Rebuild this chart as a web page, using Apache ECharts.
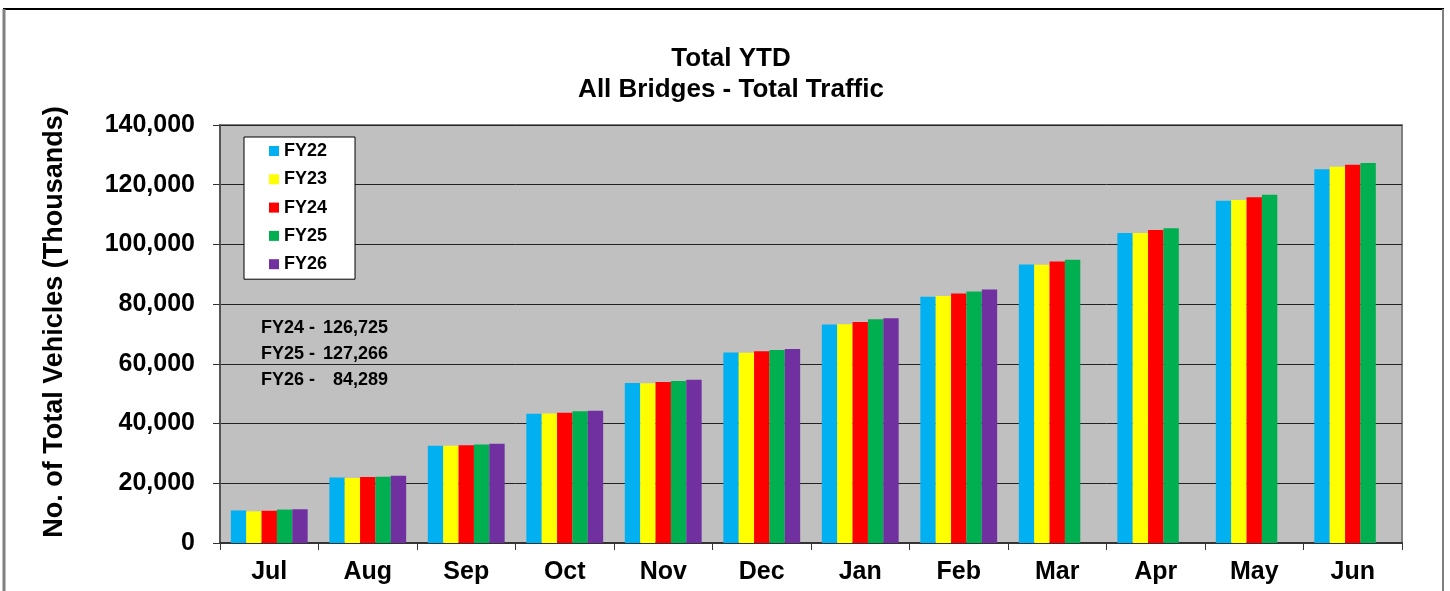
<!DOCTYPE html>
<html>
<head>
<meta charset="utf-8">
<script src="https://cdn.jsdelivr.net/npm/echarts@6/dist/echarts.min.js"></script>
<style>
  html, body { margin: 0; padding: 0; background: #fff; }
  #chart { width: 1450px; height: 591px; }
</style>
</head>
<body>
<div id="chart"></div>
<script>
// ---- Data ----
const categories = ['Jul','Aug','Sep','Oct','Nov','Dec','Jan','Feb','Mar','Apr','May','Jun'];
const seriesNames = ['FY22','FY23','FY24','FY25','FY26'];
const fy22 = [10900, 21900, 32600, 43300, 53600, 63800, 73200, 82500, 93300, 103800, 114600, 125200];
const fy23 = [10600, 21800, 32600, 43400, 53500, 63700, 73300, 82700, 93200, 103800, 114900, 126000];
const fy24 = [10800, 22100, 32700, 43600, 53900, 64200, 74000, 83600, 94300, 104800, 115800, 126725];
const fy25 = [11200, 22200, 33000, 44100, 54300, 64600, 74900, 84200, 94900, 105400, 116600, 127266];
const fy26 = [11300, 22500, 33200, 44300, 54700, 65000, 75300, 84900, null, null, null, null];
const seriesColors = ['#00B0F0', '#FFFF00', '#FF0000', '#00B050', '#7030A0'];
const noteNames = ['FY24 -', 'FY25 -', 'FY26 -'];
const noteTotals = ['126,725', '127,266', '84,289'];
const yTicks = { min: 0, max: 140000, interval: 20000 };
const titleLines = ['Total YTD', 'All Bridges - Total Traffic'];
const yAxisTitle = 'No. of Total Vehicles (Thousands)';

const FONT = "'Liberation Sans', Arial, Helvetica, sans-serif";
const allSeries = [fy22, fy23, fy24, fy25, fy26];

const chart = echarts.init(document.getElementById('chart'), null, { renderer: 'canvas' });

const noteGraphics = [];
noteNames.forEach((n, i) => {
  noteGraphics.push({
    type: 'text', left: 261, top: 319 + i * 26,
    style: { text: n, font: 'bold 18px ' + FONT, fill: '#000' }
  });
  noteGraphics.push({
    type: 'text', right: 1450 - 388, top: 319 + i * 26,
    style: { text: noteTotals[i], font: 'bold 18px ' + FONT, fill: '#000', textAlign: 'right' }
  });
});

const option = {
  animation: false,
  backgroundColor: '#ffffff',
  textStyle: { fontFamily: FONT },
  title: {
    text: titleLines.join('\n'),
    left: 726,
    textAlign: 'center',
    top: 38,
    textStyle: { fontFamily: FONT, fontWeight: 'bold', fontSize: 26, lineHeight: 31, color: '#000' }
  },
  legend: {
    data: seriesNames,
    orient: 'vertical',
    left: 244,
    top: 137,
    backgroundColor: '#ffffff',
    borderColor: '#000000',
    borderWidth: 1,
    borderRadius: 0,
    padding: [5, 28, 6, 25],
    itemGap: 10.3,
    itemWidth: 10,
    itemHeight: 10,
    icon: 'rect',
    textStyle: { fontFamily: FONT, fontWeight: 'bold', fontSize: 18, lineHeight: 18, color: '#000' }
  },
  grid: {
    left: 220, right: 48, top: 125, bottom: 48,
    show: true,
    backgroundColor: '#C0C0C0',
    borderColor: '#808080',
    borderWidth: 2
  },
  xAxis: {
    type: 'category',
    data: categories,
    boundaryGap: true,
    axisLine: { show: true, lineStyle: { color: '#333', width: 2 } },
    axisTick: { show: true, length: 7, lineStyle: { color: '#333', width: 1 } },
    axisLabel: { margin: 17, fontFamily: FONT, fontWeight: 'bold', fontSize: 25, color: '#000' },
    splitLine: { show: false }
  },
  yAxis: {
    type: 'value',
    min: yTicks.min,
    max: yTicks.max,
    interval: yTicks.interval,
    name: yAxisTitle,
    nameLocation: 'middle',
    nameRotate: 90,
    nameGap: 152,
    nameTextStyle: {
      fontFamily: FONT, fontWeight: 'bold', fontSize: 27, color: '#000',
      padding: [0, 0, 0, 24]
    },
    axisLine: { show: true, lineStyle: { color: '#555', width: 2 } },
    axisTick: { show: true, length: 7, lineStyle: { color: '#333', width: 1 } },
    axisLabel: {
      margin: 25, fontFamily: FONT, fontWeight: 'bold', fontSize: 25, color: '#000',
      formatter: v => v.toLocaleString('en-US')
    },
    splitLine: { show: true, lineStyle: { color: '#222', width: 1 } }
  },
  series: seriesNames.map((name, i) => ({
    name: name,
    type: 'bar',
    data: allSeries[i],
    barGap: '0%',
    barCategoryGap: '22%',
    itemStyle: { color: seriesColors[i] }
  })),
  graphic: [
    { type: 'line', shape: { x1: 3, y1: 9, x2: 1444, y2: 9 }, style: { stroke: '#000', lineWidth: 2 } },
    { type: 'line', shape: { x1: 4, y1: 9, x2: 4, y2: 591 }, style: { stroke: '#808080', lineWidth: 3 } },
    { type: 'line', shape: { x1: 1443, y1: 9, x2: 1443, y2: 591 }, style: { stroke: '#808080', lineWidth: 2 } }
  ].concat(noteGraphics)
};

chart.setOption(option);
</script>
</body>
</html>
